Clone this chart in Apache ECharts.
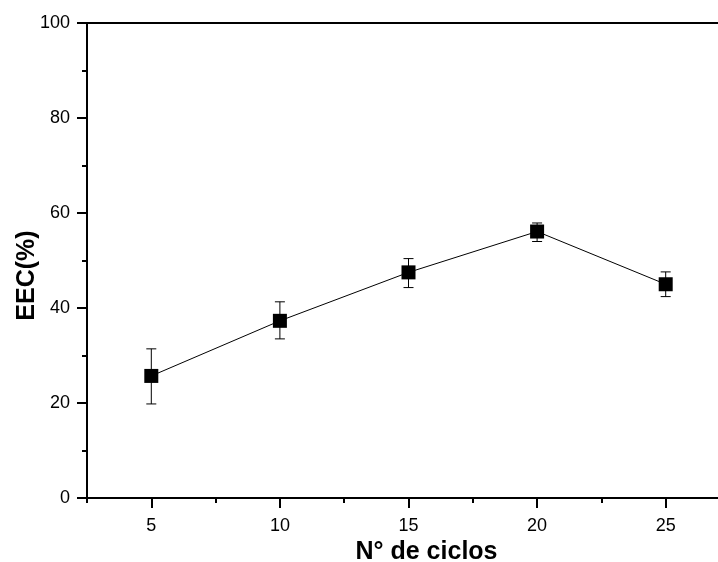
<!DOCTYPE html>
<html>
<head>
<meta charset="utf-8">
<script src="https://cdn.jsdelivr.net/npm/echarts@6/dist/echarts.min.js"></script>
<style>
  html, body { margin: 0; padding: 0; background: #fff; }
  #chart { width: 718px; height: 562px; }
</style>
</head>
<body>
<div id="chart"></div>
<script>
// Number of cycles and encapsulation efficiency (%) with error bar limits
const cycles = [5, 10, 15, 20, 25];
const eec = [25.7, 37.3, 47.5, 56.1, 45.0];
const eecLow = [19.8, 33.5, 44.3, 54.0, 42.4];
const eecHigh = [31.4, 41.3, 50.4, 57.9, 47.6];

const xMajorTicks = [5, 10, 15, 20, 25];
const xMinorTicks = [2.5, 7.5, 12.5, 17.5, 22.5, 27.5];

const FONT = 'Liberation Sans, Arial, sans-serif';

const chart = echarts.init(document.getElementById('chart'));

const errorData = cycles.map((c, i) => [c, eecLow[i], eecHigh[i]]);
const lineData = cycles.map((c, i) => [c, eec[i]]);

const xBase = { type: 'value', min: 2.5, max: 27.5, splitLine: { show: false } };

chart.setOption({
  animation: false,
  backgroundColor: '#fff',
  grid: { left: 87, top: 23, bottom: 64, right: -12, containLabel: false, outerBoundsMode: 'none' },
  xAxis: [
    Object.assign({}, xBase, {
      position: 'bottom',
      name: 'N° de ciclos',
      nameLocation: 'middle',
      nameGap: 42,
      nameMoveOverlap: false,
      nameTextStyle: { fontFamily: FONT, fontSize: 25, fontWeight: 'bold', color: '#000', padding: [0, 0, 0, 36] },
      axisLine: { show: true, onZero: false, lineStyle: { color: '#000', width: 2 } },
      axisTick: { show: true, inside: false, length: 10, customValues: xMajorTicks, lineStyle: { color: '#000', width: 2 } },
      axisLabel: { show: true, customValues: xMajorTicks, margin: 19, fontFamily: FONT, fontSize: 18, color: '#000' }
    }),
    Object.assign({}, xBase, {
      position: 'bottom',
      axisLine: { show: false },
      axisTick: { show: true, inside: false, length: 5, customValues: xMinorTicks, lineStyle: { color: '#000', width: 2 } },
      axisLabel: { show: false }
    }),
    Object.assign({}, xBase, {
      position: 'top',
      axisLine: { show: true, onZero: false, lineStyle: { color: '#000', width: 2 } },
      axisTick: { show: false },
      axisLabel: { show: false }
    })
  ],
  yAxis: {
    type: 'value',
    min: 0,
    max: 100,
    interval: 20,
    name: 'EEC(%)',
    nameLocation: 'middle',
    nameGap: 47,
    nameMoveOverlap: false,
    nameTextStyle: { fontFamily: FONT, fontSize: 25, fontWeight: 'bold', color: '#000', padding: [0, 30, 0, 0] },
    axisLine: { show: true, onZero: false, lineStyle: { color: '#000', width: 2 } },
    axisTick: { show: true, inside: false, length: 10, lineStyle: { color: '#000', width: 2 } },
    minorTick: { show: true, splitNumber: 2, length: 5, lineStyle: { color: '#000', width: 2 } },
    axisLabel: { margin: 17, fontFamily: FONT, fontSize: 18, color: '#000' },
    splitLine: { show: false }
  },
  series: [
    {
      type: 'line',
      data: lineData,
      xAxisIndex: 0,
      symbol: 'rect',
      symbolSize: 14,
      lineStyle: { color: '#000', width: 1 },
      itemStyle: { color: '#000' },
      z: 3
    },
    {
      type: 'custom',
      xAxisIndex: 0,
      data: errorData,
      z: 2,
      renderItem: function (params, api) {
        const x = api.value(0);
        const top = api.coord([x, api.value(2)]);
        const bot = api.coord([x, api.value(1)]);
        const half = 5;
        const style = { stroke: '#000', lineWidth: 1 };
        return {
          type: 'group',
          children: [
            { type: 'line', shape: { x1: top[0], y1: top[1], x2: bot[0], y2: bot[1] }, style: style },
            { type: 'line', shape: { x1: top[0] - half, y1: top[1], x2: top[0] + half, y2: top[1] }, style: style },
            { type: 'line', shape: { x1: bot[0] - half, y1: bot[1], x2: bot[0] + half, y2: bot[1] }, style: style }
          ]
        };
      }
    }
  ]
});
</script>
</body>
</html>
